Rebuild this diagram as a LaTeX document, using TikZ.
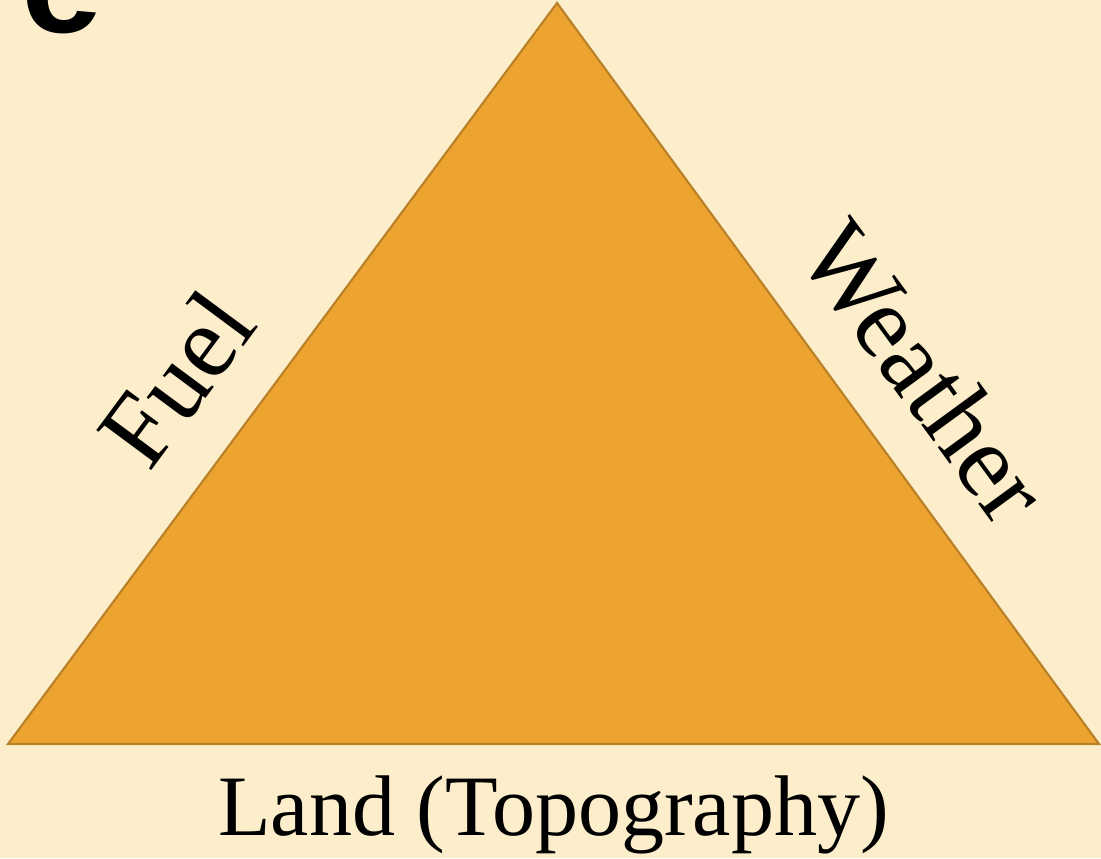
\documentclass[tikz,border=0pt]{standalone}
\usepackage{fontspec}
\setmainfont{Liberation Serif}
\newfontfamily\headfont{Liberation Sans}
\usetikzlibrary{positioning}
\definecolor{paper}{RGB}{252,237,203}
\definecolor{tri}{RGB}{237,163,47}
\definecolor{triedge}{RGB}{185,128,40}

\begin{document}
\begin{tikzpicture}[x=0.02cm,y=-0.02cm,
  lbl/.style={font=\fontsize{49}{58}\selectfont,inner sep=0pt},
  sidelbl/.style={font=\fontsize{59}{70}\selectfont,inner sep=0pt,sloped}]
\useasboundingbox (0,0) rectangle (1101,858);
\fill[paper] (0,0) rectangle (1101,858);
\coordinate (apex) at (557,3);
\coordinate (bl) at (8,744);
\coordinate (br) at (1099,744);
\filldraw[fill=tri,draw=triedge,line width=1.2pt]
  (bl) -- node[sidelbl,above=0.9cm,pos=0.427] (fuel) {Fuel} (apex)
  -- node[sidelbl,above=0.84cm,pos=0.561] (weather) {Weather} (br) -- cycle;
\path (bl) -- node[lbl,below=0.62cm] (land) {Land (Topography)} (br);
\node[font=\headfont\bfseries\fontsize{83}{90}\selectfont,anchor=base east,inner sep=0pt] (head) at (103,33) {re};
\end{tikzpicture}
\end{document}
